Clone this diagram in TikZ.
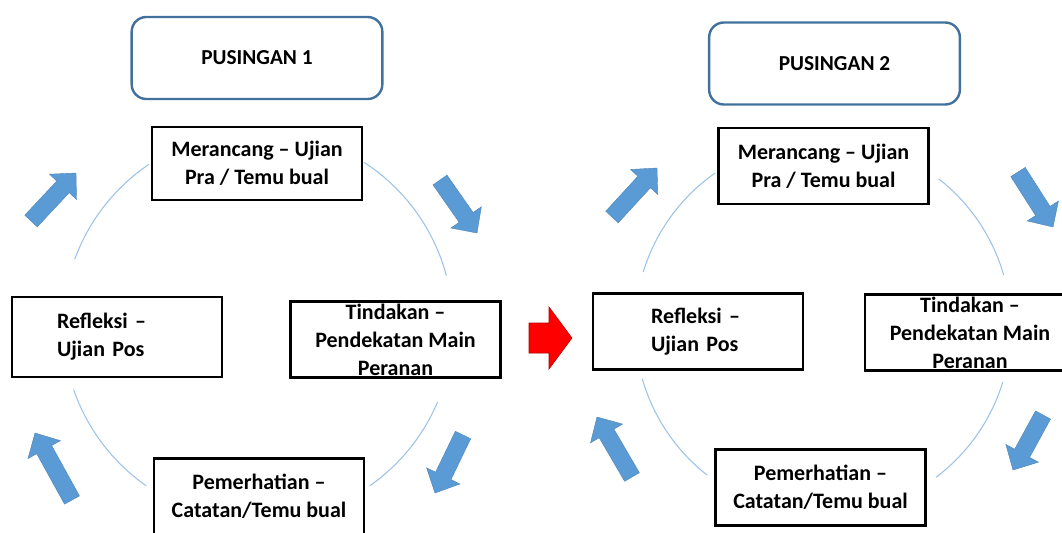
\documentclass[tikz,border=0pt]{standalone}
\usepackage{fontspec}
\setmainfont{Carlito}
\usepackage{tikz}
\usetikzlibrary{calc}
\definecolor{ringblue}{HTML}{9DC3E6}
\definecolor{arrowblue}{HTML}{5B9BD5}
\definecolor{titleblue}{HTML}{41719C}
\tikzset{
  titlebox/.style={draw=titleblue, line width=1.8pt, rounded corners=11pt, minimum width=188pt, minimum height=61.5pt, font=\fontsize{16}{19}\selectfont\bfseries},
  stagebox/.style={draw=black, line width=1.8pt, fill=white, minimum width=157.5pt, minimum height=57pt, inner sep=0pt, align=center, font=\fontsize{16.5}{21}\selectfont\bfseries},
  ringarc/.style={draw=ringblue, line width=0.8pt},
  blockarrow/.style={fill=arrowblue, draw=arrowblue!85!black, line width=0.3pt},
  redarrow/.style={fill=red, draw=red!70!black, line width=0.4pt}
}
% block arrow from tail #1 to tip #2
\newcommand{\cyclearrow}[2]{%
  \coordinate (hb) at ($(#2)!14.25pt!(#1)$);
  \filldraw[blockarrow] ($(#1)!6.4pt!90:(#2)$) -- ($(hb)!6.4pt!-90:(#1)$) -- ($(hb)!13.9pt!-90:(#1)$) -- (#2) -- ($(hb)!13.9pt!90:(#1)$) -- ($(hb)!6.4pt!90:(#1)$) -- ($(#1)!6.4pt!-90:(#2)$) -- cycle;
}

\begin{document}
\begin{tikzpicture}[x=0.75pt, y=-0.75pt]
  \useasboundingbox (0,0) rectangle (1062,532);

  % PUSINGAN 1
  \coordinate (c1) at (258,326);
  \draw[ringarc] (c1) ++(-15:195) arc[start angle=-15, end angle=-57, radius=195];
  \draw[ringarc] (c1) ++(-124:195) arc[start angle=-124, end angle=-160, radius=195];
  \draw[ringarc] (c1) ++(-199:195) arc[start angle=-199, end angle=-235, radius=195];
  \draw[ringarc] (c1) ++(-305:195) arc[start angle=-305, end angle=-337, radius=195];

  \node[titlebox] (pus1) at (257,58) {PUSINGAN 1};
  \node[stagebox, minimum height=54.75pt] (mer1) at (257,163.5) {Merancang -- Ujian\\Pra / Temu bual};
  \node[stagebox] (tin1) at (395.5,339.5) {Tindakan --\\Pendekatan Main\\Peranan};
  \node[stagebox] (pem1) at (259,496.5) {Pemerhatian --\\Catatan/Temu bual};
  \node[stagebox, minimum height=60pt, text width=90pt, align=left] (ref1) at (117,337) {Refleksi --\\Ujian Pos};

  % arrows round the cycle
  \cyclearrow{31,221}{76,173}
  \cyclearrow{440,180}{477,233}
  \cyclearrow{463,435}{435,493}
  \cyclearrow{72,500}{35,433}

  % PUSINGAN 1 to PUSINGAN 2
  \filldraw[redarrow] (529,323) -- (549,323) -- (549,307) -- (572,338) -- (549,369) -- (549,353) -- (529,353) -- cycle;

  % PUSINGAN 2
  \coordinate (c2) at (823,327);
  \draw[ringarc] (c2) ++(-16:188) arc[start angle=-16, end angle=-52, radius=188];
  \draw[ringarc] (c2) ++(-125:188) arc[start angle=-125, end angle=-163, radius=188];
  \draw[ringarc] (c2) ++(-196:188) arc[start angle=-196, end angle=-232, radius=188];
  \draw[ringarc] (c2) ++(-307:188) arc[start angle=-307, end angle=-343, radius=188];

  \node[titlebox] (pus2) at (834.5,63.5) {PUSINGAN 2};
  \node[stagebox] (mer2) at (823.5,166) {Merancang -- Ujian\\Pra / Temu bual};
  \node[stagebox] (tin2) at (970,332.5) {Tindakan --\\Pendekatan Main\\Peranan};
  \node[stagebox] (pem2) at (820.5,487.5) {Pemerhatian --\\Catatan/Temu bual};
  \node[stagebox, text width=70.5pt, align=left] (ref2) at (698,331.5) {Refleksi --\\Ujian Pos};

  % arrows round the cycle
  \cyclearrow{612,217}{657,168}
  \cyclearrow{1018,172}{1053,227}
  \cyclearrow{1043,415}{1013,470}
  \cyclearrow{632,477}{597,417}
\end{tikzpicture}
\end{document}
